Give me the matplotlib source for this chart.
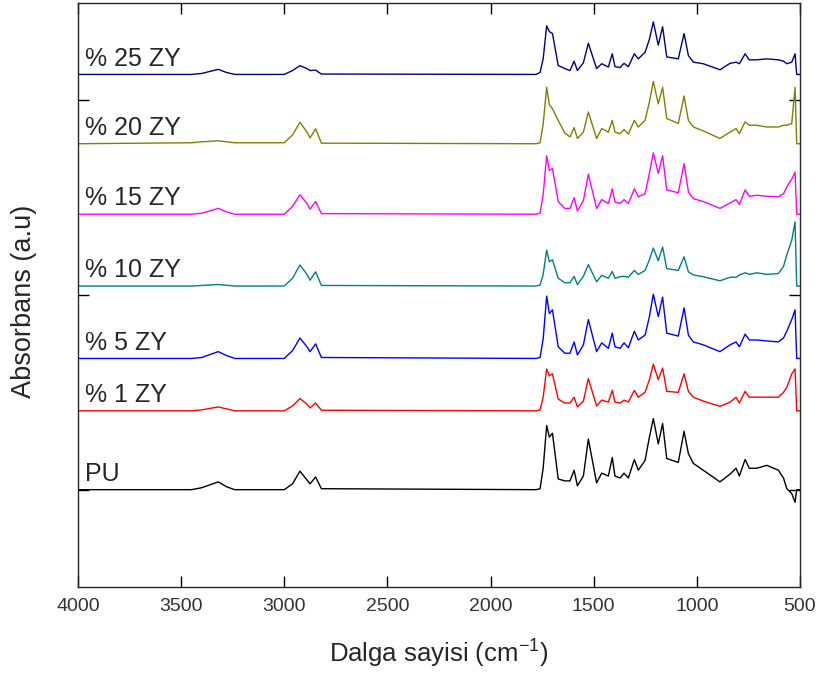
import matplotlib
matplotlib.use("Agg")
import matplotlib.pyplot as plt

# wavenumber grid (cm-1), shared by every spectrum
wavenumber = [4000, 3450, 3400, 3320, 3280, 3240, 3000, 2960, 2924, 2890, 2875, 2848, 2820,
              1780, 1760, 1745, 1728, 1715, 1700, 1672, 1640, 1615, 1595, 1579, 1550, 1526,
              1486, 1461, 1429, 1410, 1397, 1372, 1353, 1332, 1303, 1284, 1251, 1230, 1211, 1187, 1166, 1146,
              1090, 1062, 1041, 1017, 969, 888, 839, 810, 794, 766, 746, 710, 661,
              605, 580, 564, 540, 524, 516, 505, 500]

# absorbance (height above each trace's own baseline)
pu = [0, 0, 0.01, 0.04, 0.015, 0, 0, 0.03, 0.095, 0.05, 0.03, 0.065, 0.005,
      0, 0.005, 0.11, 0.33, 0.27, 0.29, 0.055, 0.045, 0.045, 0.10, 0.02, 0.07, 0.26,
      0.035, 0.085, 0.07, 0.165, 0.07, 0.06, 0.085, 0.06, 0.155, 0.10, 0.15, 0.27, 0.365, 0.235, 0.34, 0.16,
      0.14, 0.30, 0.185, 0.135, 0.10, 0.04, 0.08, 0.11, 0.07, 0.155, 0.11, 0.11, 0.125,
      0.10, 0.06, 0.005, -0.02, -0.065, 0, 0, 0]
zy1 = [0, 0, 0.005, 0.02, 0.01, 0, 0, 0.025, 0.063, 0.035, 0.015, 0.04, 0.003,
       0, 0.005, 0.07, 0.215, 0.18, 0.19, 0.06, 0.04, 0.04, 0.07, 0.02, 0.05, 0.165,
       0.025, 0.055, 0.045, 0.105, 0.045, 0.04, 0.055, 0.045, 0.105, 0.07, 0.095, 0.16, 0.24, 0.16, 0.22, 0.10,
       0.095, 0.19, 0.10, 0.07, 0.05, 0.023, 0.045, 0.07, 0.04, 0.10, 0.07, 0.07, 0.07,
       0.07, 0.095, 0.12, 0.19, 0.215, 0, 0, 0]
zy5 = [0, 0, 0.005, 0.035, 0.015, 0, 0, 0.04, 0.105, 0.06, 0.035, 0.075, 0.005,
       0, 0.005, 0.10, 0.32, 0.23, 0.25, 0.06, 0.027, 0.027, 0.085, 0.018, 0.07, 0.20,
       0.035, 0.08, 0.052, 0.13, 0.06, 0.052, 0.08, 0.055, 0.14, 0.095, 0.12, 0.215, 0.33, 0.215, 0.315, 0.13,
       0.115, 0.26, 0.12, 0.085, 0.07, 0.035, 0.07, 0.085, 0.06, 0.125, 0.095, 0.095, 0.09,
       0.085, 0.105, 0.14, 0.20, 0.25, 0, 0, 0]
zy10 = [0, 0, 0.003, 0.008, 0.004, 0, 0, 0.04, 0.108, 0.06, 0.03, 0.073, 0.003,
        0, 0.005, 0.06, 0.185, 0.125, 0.135, 0.04, 0.017, 0.017, 0.05, 0.008, 0.05, 0.11,
        0.022, 0.055, 0.04, 0.075, 0.04, 0.048, 0.05, 0.045, 0.08, 0.06, 0.08, 0.135, 0.195, 0.13, 0.20, 0.09,
        0.08, 0.15, 0.073, 0.057, 0.048, 0.027, 0.045, 0.045, 0.057, 0.068, 0.06, 0.068, 0.06,
        0.064, 0.10, 0.16, 0.235, 0.33, 0, 0, 0]
zy15 = [0, 0, 0.005, 0.03, 0.012, 0, 0, 0.04, 0.10, 0.055, 0.026, 0.065, 0.003,
        0, 0.005, 0.10, 0.30, 0.225, 0.235, 0.065, 0.03, 0.03, 0.085, 0.017, 0.07, 0.205,
        0.03, 0.075, 0.055, 0.13, 0.063, 0.055, 0.075, 0.055, 0.13, 0.09, 0.105, 0.21, 0.315, 0.21, 0.30, 0.125,
        0.11, 0.26, 0.115, 0.08, 0.065, 0.03, 0.058, 0.075, 0.05, 0.125, 0.092, 0.097, 0.092,
        0.09, 0.105, 0.14, 0.18, 0.215, 0, 0, 0]
zy20 = [0, 0.005, 0.01, 0.015, 0.01, 0.005, 0.005, 0.045, 0.11, 0.06, 0.03, 0.077, 0.003,
        0, 0.005, 0.10, 0.29, 0.20, 0.18, 0.12, 0.055, 0.035, 0.083, 0.027, 0.06, 0.163,
        0.027, 0.078, 0.06, 0.12, 0.06, 0.052, 0.073, 0.05, 0.12, 0.086, 0.12, 0.215, 0.32, 0.205, 0.29, 0.13,
        0.104, 0.245, 0.12, 0.086, 0.066, 0.027, 0.06, 0.078, 0.052, 0.112, 0.095, 0.095, 0.086,
        0.086, 0.095, 0.095, 0.104, 0.29, 0, 0, 0]
zy25 = [0, 0, 0.005, 0.026, 0.01, 0, 0, 0.02, 0.045, 0.03, 0.02, 0.022, 0.002,
        0, 0.01, 0.08, 0.25, 0.22, 0.21, 0.046, 0.03, 0.02, 0.068, 0.02, 0.06, 0.16,
        0.03, 0.055, 0.038, 0.106, 0.04, 0.035, 0.057, 0.04, 0.106, 0.08, 0.114, 0.18, 0.27, 0.15, 0.245, 0.09,
        0.08, 0.21, 0.097, 0.063, 0.055, 0.024, 0.057, 0.063, 0.055, 0.106, 0.075, 0.075, 0.08,
        0.075, 0.068, 0.055, 0.063, 0.106, 0, 0, 0]

labels = ["PU", "% 1 ZY", "% 5 ZY", "% 10 ZY", "% 15 ZY", "% 20 ZY", "% 25 ZY"]
spectra = [pu, zy1, zy5, zy10, zy15, zy20, zy25]
offsets = [0, 0.405, 0.674, 1.046, 1.415, 1.777, 2.133]
colors = ["black", "#ff0000", "#0000ff", "#008080", "#ff00ff", "#808000", "#000080"]


def main():
    plt.rcParams['font.family'] = ['Liberation Sans', 'DejaVu Sans']
    plt.rcParams['mathtext.default'] = 'regular'

    fig = plt.figure(figsize=(8.19, 6.78), dpi=100)
    ax = fig.add_axes([0.0952, 0.1342, 0.8816, 0.8614])

    for y, off, col, lab in zip(spectra, offsets, colors, labels):
        ax.plot(wavenumber, [v + off for v in y], color=col, lw=1.0)
        ax.text(3965, off + 0.045, lab, fontsize=18, color='#262626',
                ha='left', va='baseline')

    ax.set_xlim(4000, 500)
    ax.set_ylim(-0.5, 2.5)
    ax.set_xticks([4000, 3500, 3000, 2500, 2000, 1500, 1000, 500])
    ax.set_yticks([0, 1, 2])
    ax.set_yticklabels([])
    ax.tick_params(direction='in', length=8, width=1, top=True, right=True,
                   labelsize=14, labelcolor='#333333', pad=8)

    for s in ax.spines.values():
        s.set_color('#262626')
        s.set_linewidth(1.0)

    ax.set_xlabel(r'Dalga sayisi (cm$^{-1}$)', fontsize=18.5, color='#262626')
    ax.set_ylabel('Absorbans (a.u)', fontsize=19.5, color='#262626')
    ax.xaxis.set_label_coords(0.5, -0.087)
    ax.yaxis.set_label_coords(-0.057, 0.489)

    fig.savefig('out.png', dpi=100)


if __name__ == "__main__":
    main()
